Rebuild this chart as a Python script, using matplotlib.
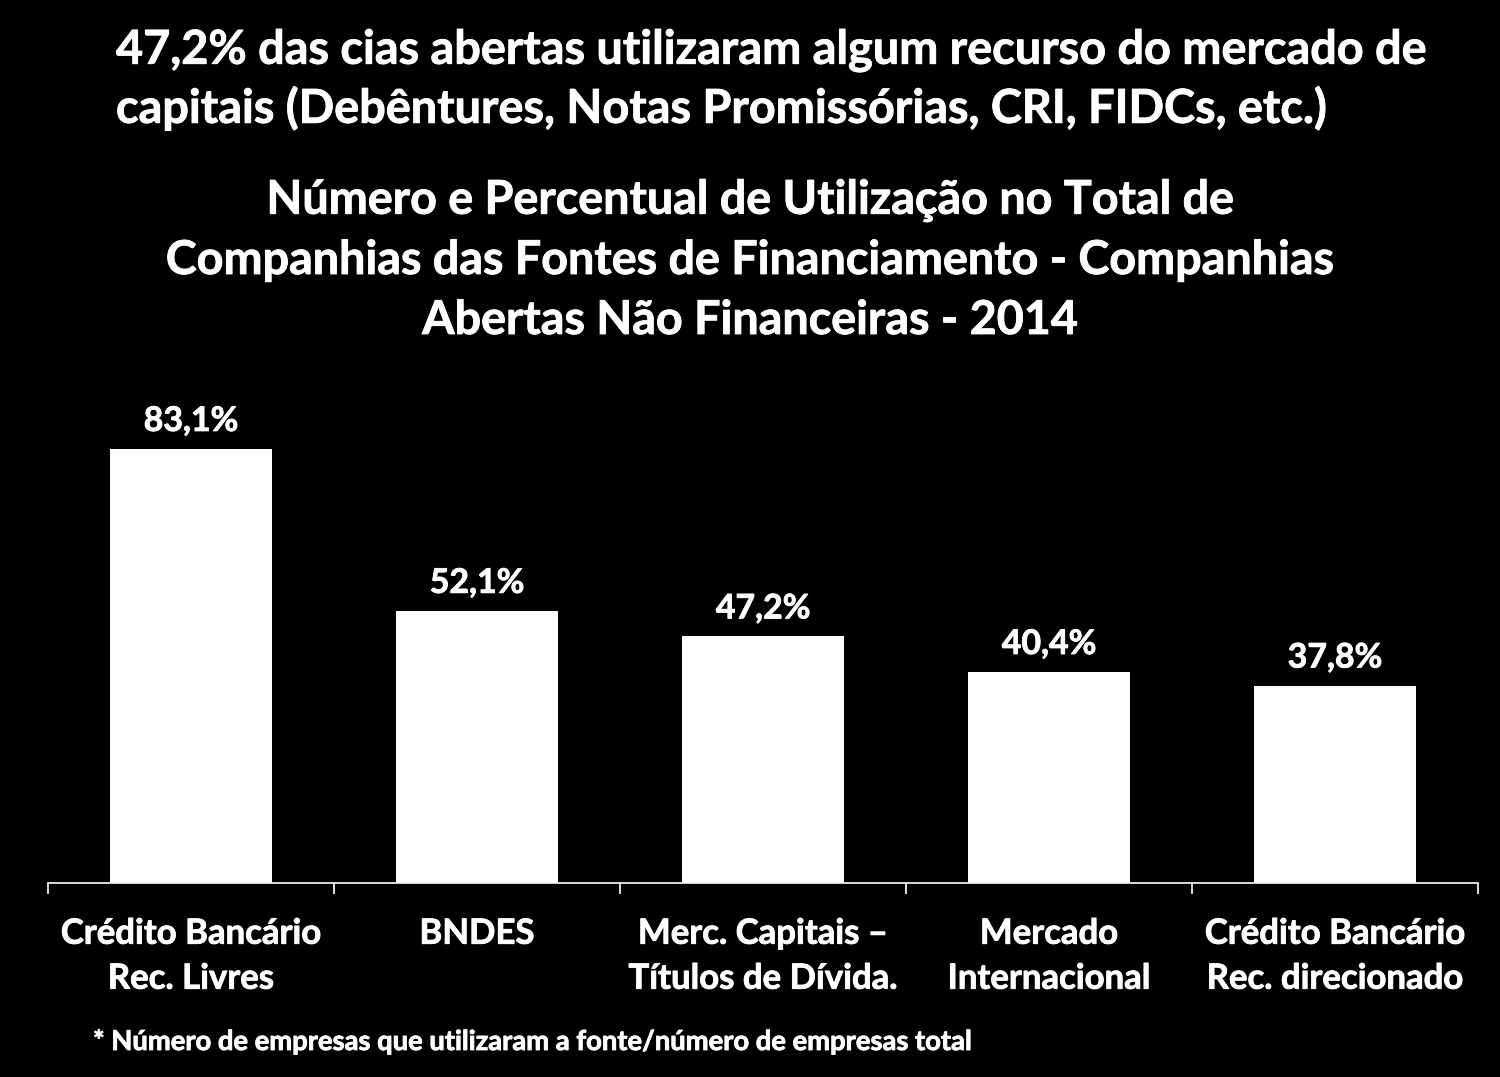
import matplotlib.pyplot as plt
import matplotlib.patheffects as pe

categories = ["Crédito Bancário\nRec. Livres", "BNDES", "Merc. Capitais –\nTítulos de Dívida.",
              "Mercado\nInternacional", "Crédito Bancário\nRec. direcionado"]
values = [83.1, 52.1, 47.2, 40.4, 37.8]
value_labels = ["83,1%", "52,1%", "47,2%", "40,4%", "37,8%"]

headline = ["47,2% das cias abertas utilizaram algum recurso do mercado de",
            "capitais (Debêntures, Notas Promissórias, CRI, FIDCs, etc.)"]
chart_title = ["Número e Percentual de Utilização no Total de",
               "Companhias das Fontes de Financiamento - Companhias",
               "Abertas Não Financeiras - 2014"]
footnote = "* Número de empresas que utilizaram a fonte/número de empresas total"

plt.rcParams['font.family'] = ['Lato', 'DejaVu Sans']
plt.rcParams['font.weight'] = 'bold'
# thicken the strokes a little, the original font is heavier
heavy = [pe.withStroke(linewidth=0.6, foreground='white')]

W, H = 1500, 1077
fig = plt.figure(figsize=(15, 10.77), dpi=100, facecolor='black')
# axes box in pixel terms: x 48..1478, baseline at y=883, top at y=380
ax = fig.add_axes([48 / W, 1 - 883 / H, 1430 / W, 503 / H], facecolor='black')

x = list(range(len(categories)))
ax.bar(x, values, width=0.567, color='white')
for xi, v, lab in zip(x, values, value_labels):
    ax.text(xi, v + 2.3, lab, ha='center', va='bottom', color='white',
            fontsize=24.4, fontweight='bold', path_effects=heavy)

ax.set_xlim(-0.5, len(categories) - 0.5)
ax.set_ylim(0, 96.3)
ax.set_yticks([])
for s in ['top', 'right', 'left']:
    ax.spines[s].set_visible(False)
ax.spines['bottom'].set_color('white')
ax.spines['bottom'].set_linewidth(1.2)

ax.set_xticks([i - 0.5 for i in range(len(categories) + 1)], minor=False)
ax.set_xticklabels([])
ax.tick_params(axis='x', which='major', length=8, width=1.2, color='white')
ax.set_xticks(x, minor=True)
ax.set_xticklabels(categories, minor=True, color='white', fontsize=25,
                   fontweight='bold', linespacing=1.5)
for t in ax.get_xticklabels(minor=True):
    t.set_path_effects(heavy)
ax.tick_params(axis='x', which='minor', length=0, pad=25)

for line, yc in zip(headline, [50, 108]):
    fig.text(116 / W, 1 - yc / H, line, ha='left', va='center', color='white',
             fontsize=33.7, fontweight='bold', path_effects=heavy)
for line, yc in zip(chart_title, [200, 260, 320]):
    fig.text(750 / W, 1 - yc / H, line, ha='center', va='center', color='white',
             fontsize=33.6, fontweight='bold', path_effects=heavy)
fig.text(93 / W, 1 - 1042 / H, footnote, ha='left', va='center', color='white',
         fontsize=19.7, fontweight='bold', path_effects=heavy)

fig.savefig('out.png', dpi=100, facecolor='black')
